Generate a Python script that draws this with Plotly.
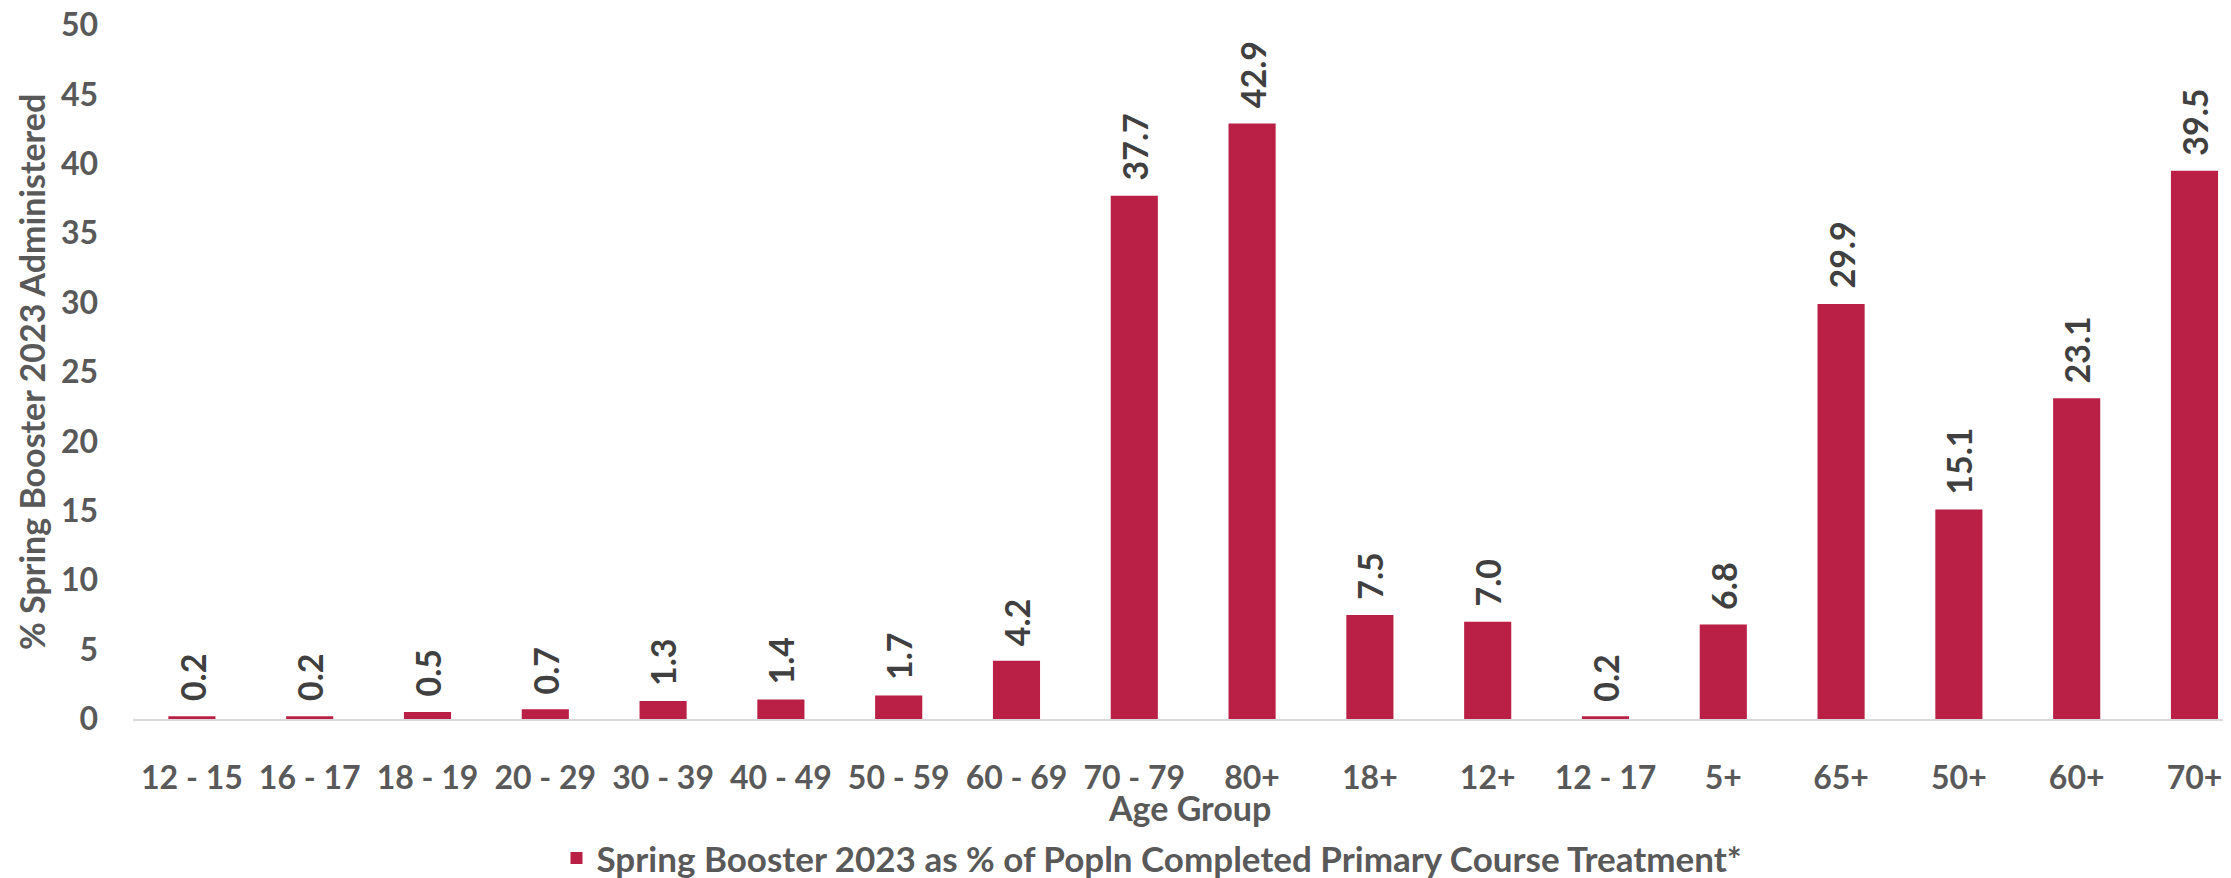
import plotly.graph_objects as go

categories = ["12 - 15", "16 - 17", "18 - 19", "20 - 29", "30 - 39", "40 - 49", "50 - 59",
              "60 - 69", "70 - 79", "80+", "18+", "12+", "12 - 17", "5+", "65+", "50+", "60+", "70+"]
values = [0.2, 0.2, 0.5, 0.7, 1.3, 1.4, 1.7, 4.2, 37.7, 42.9, 7.5, 7.0, 0.2, 6.8, 29.9, 15.1, 23.1, 39.5]
series_name = "Spring Booster 2023 as % of Popln Completed Primary Course Treatment*"
x_title = "Age Group"
y_title = "% Spring Booster 2023 Administered"
y_ticks = [0, 5, 10, 15, 20, 25, 30, 35, 40, 45, 50]

FONT = "Lato"
BAR = "#BA1F45"
TICK = "#595959"
LABEL = "#404040"

fig = go.Figure()
fig.add_trace(go.Bar(
    x=categories, y=values, name=series_name,
    marker=dict(color=BAR, line=dict(width=0)),
    showlegend=True,
))

for c, v in zip(categories, values):
    fig.add_annotation(
        x=c, y=v, text=f"{v:.1f}", textangle=-90, showarrow=False,
        xanchor="center", yanchor="bottom", yshift=13,
        font=dict(family=FONT, size=34, color=LABEL, weight="bold"),
    )

# axis titles
fig.add_annotation(
    x=0.5037, y=-0.1275, xref="paper", yref="paper", text=x_title, showarrow=False,
    xanchor="center", yanchor="middle",
    font=dict(family=FONT, size=34, color=TICK, weight="bold"),
)
fig.add_annotation(
    x=-0.0486, y=0.5, xref="paper", yref="paper", text=y_title, showarrow=False,
    textangle=-90, xanchor="center", yanchor="middle",
    font=dict(family=FONT, size=34, color=TICK, weight="bold"),
)

fig.update_layout(
    width=2223, height=870,
    margin=dict(l=125, r=0, t=17, b=159, autoexpand=False),
    paper_bgcolor="white", plot_bgcolor="white",
    bargap=0.6,
    font=dict(family=FONT, color=TICK, weight="bold"),
    showlegend=True,
    legend=dict(
        orientation="h", x=0.4857, xref="paper", xanchor="center",
        y=-0.2005, yanchor="middle",
        font=dict(family=FONT, size=35, color=TICK, weight="bold"),
    ),
    xaxis=dict(
        type="category", range=[-0.5, 17.31], automargin=False,
        showgrid=False, showline=True, linecolor="#D9D9D9", linewidth=2,
        ticks="", ticklabelstandoff=30, ticklabeloverflow="allow",
        tickfont=dict(family=FONT, size=32, color=TICK, weight="bold"),
    ),
    yaxis=dict(
        range=[0, 50], tickvals=y_ticks, showgrid=False, showline=False,
        zeroline=False, ticks="", ticklabelstandoff=34, automargin=False,
        ticklabeloverflow="allow",
        tickfont=dict(family=FONT, size=32, color=TICK, weight="bold"),
    ),
)

fig.write_html("out.html")
